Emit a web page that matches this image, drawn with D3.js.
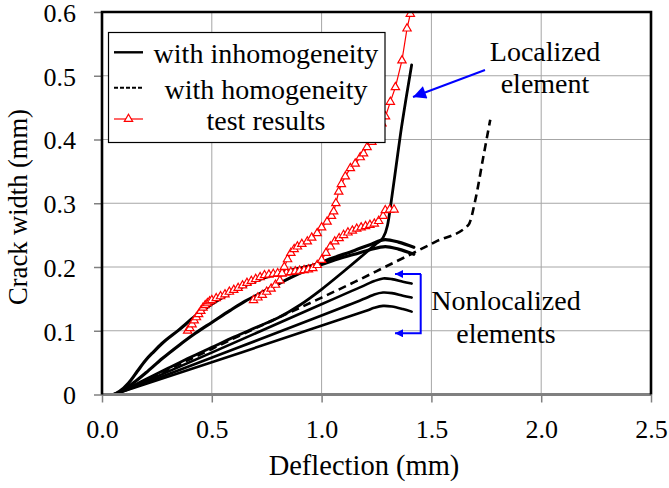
<!DOCTYPE html>
<html>
<head>
<meta charset="utf-8">
<script src="https://cdn.jsdelivr.net/npm/d3@7"></script>
<style>
  html, body { margin: 0; padding: 0; background: #fff; }
  svg { display: block; }
</style>
</head>
<body>
<div id="chart"></div>
<script>
// ---------- DATA ----------
const xTicks = [0, 0.5, 1.0, 1.5, 2.0, 2.5];
const xTickLabels = ["0.0", "0.5", "1.0", "1.5", "2.0", "2.5"];
const yTicks = [0, 0.1, 0.2, 0.3, 0.4, 0.5, 0.6];
const yTickLabels = ["0", "0.1", "0.2", "0.3", "0.4", "0.5", "0.6"];

const xTitle = "Deflection (mm)";
const yTitle = "Crack width (mm)";
const legendLabels = ["with inhomogeneity", "with homogeneity", "test results"];

// with inhomogeneity: upper (nonlocalized) pair
const inhomoUpperA = [[0,0],[0.05,0],[0.08,0.005],[0.121,0.018],[0.16,0.036],[0.197,0.053],[0.235,0.067],[0.273,0.080],[0.349,0.101],[0.425,0.123],[0.501,0.142],[0.577,0.158],[0.653,0.171],[0.729,0.182],[0.80,0.190],[0.873,0.196],[0.964,0.203],[1.05,0.214],[1.15,0.226],[1.22,0.235],[1.29,0.243],[1.35,0.239],[1.42,0.231]];
const inhomoUpperB = [[0,0],[0.05,0],[0.10,0.008],[0.15,0.020],[0.20,0.034],[0.273,0.056],[0.35,0.077],[0.425,0.096],[0.50,0.113],[0.584,0.132],[0.65,0.146],[0.729,0.160],[0.80,0.173],[0.90,0.190],[0.96,0.199],[1.05,0.210],[1.15,0.220],[1.22,0.227],[1.29,0.232],[1.35,0.228],[1.42,0.220]];
// with inhomogeneity: localized element
const inhomoLocalized = [[0,0],[0.05,0],[0.10,0.007],[0.20,0.024],[0.30,0.041],[0.40,0.058],[0.50,0.074],[0.60,0.090],[0.70,0.105],[0.80,0.120],[0.90,0.140],[1.00,0.165],[1.10,0.193],[1.20,0.222],[1.25,0.237],[1.28,0.246],[1.30,0.265],[1.32,0.310],[1.34,0.360],[1.36,0.410],[1.385,0.465],[1.41,0.517]];
// with inhomogeneity: lower nonlocalized elements
const inhomoLower1 = [[0,0],[0.05,0],[0.07,0.002],[1.20,0.172],[1.24,0.178],[1.28,0.182],[1.32,0.181],[1.37,0.177],[1.41,0.174]];
const inhomoLower2 = [[0,0],[0.05,0],[0.07,0.002],[1.20,0.151],[1.24,0.157],[1.28,0.160],[1.32,0.159],[1.37,0.155],[1.41,0.152]];
const inhomoLower3 = [[0,0],[0.05,0],[0.07,0.002],[1.20,0.131],[1.24,0.136],[1.28,0.139],[1.32,0.138],[1.37,0.134],[1.41,0.130]];
// with homogeneity (dashed)
const homogeneity = [[0,0],[0.05,0],[0.10,0.007],[0.20,0.023],[0.40,0.055],[0.60,0.088],[0.80,0.120],[1.00,0.152],[1.153,0.177],[1.30,0.202],[1.418,0.222],[1.518,0.2395],[1.669,0.266],[1.70,0.305],[1.735,0.370],[1.768,0.431]];

// test results (two specimens)
const test1 = [[0.39,0.100],[0.40,0.104],[0.41,0.110],[0.42,0.116],[0.43,0.121],[0.44,0.126],[0.45,0.131],[0.46,0.136],[0.47,0.140],[0.48,0.143],[0.49,0.146],[0.50,0.148],[0.52,0.151],[0.54,0.154],[0.56,0.157],[0.58,0.161],[0.60,0.164],[0.62,0.167],[0.64,0.171],[0.66,0.175],[0.68,0.178],[0.70,0.181],[0.72,0.184],[0.74,0.187],[0.76,0.188],[0.78,0.189],[0.80,0.190],[0.82,0.190],[0.84,0.191],[0.86,0.192],[0.88,0.193],[0.90,0.194],[0.92,0.195],[0.94,0.196],[0.96,0.198],[0.98,0.203],[1.00,0.211],[1.02,0.222],[1.04,0.232],[1.06,0.240],[1.08,0.245],[1.10,0.250],[1.12,0.254],[1.14,0.257],[1.16,0.260],[1.18,0.262],[1.20,0.264],[1.22,0.266],[1.24,0.268],[1.26,0.272],[1.28,0.280],[1.29,0.289],[1.31,0.290],[1.33,0.290]];
const test2 = [[0.69,0.148],[0.71,0.152],[0.73,0.156],[0.75,0.161],[0.77,0.166],[0.79,0.172],[0.81,0.179],[0.82,0.190],[0.83,0.200],[0.845,0.212],[0.86,0.222],[0.875,0.228],[0.89,0.232],[0.91,0.236],[0.935,0.240],[0.955,0.246],[0.98,0.253],[1.00,0.262],[1.025,0.271],[1.045,0.280],[1.055,0.287],[1.065,0.300],[1.078,0.318],[1.09,0.330],[1.108,0.342],[1.131,0.355],[1.153,0.362],[1.176,0.372],[1.191,0.378],[1.207,0.388],[1.229,0.396],[1.245,0.404],[1.26,0.415],[1.275,0.425],[1.291,0.436],[1.313,0.459],[1.336,0.482],[1.366,0.524],[1.389,0.574],[1.404,0.597],[1.41,0.610]];

// annotations
const noteLocalized = ["Localized", "element"];
const noteNonlocalized = ["Nonlocalized", "elements"];

// ---------- LAYOUT ----------
const W = 669, H = 488;
const plot = { left: 102, right: 651, top: 12, bottom: 394.5 };
const font = "Times New Roman, serif";

const svg = d3.select("#chart").append("svg").attr("width", W).attr("height", H)
  .attr("font-family", font);

const x = d3.scaleLinear().domain([0, 2.5]).range([plot.left, plot.right]);
const y = d3.scaleLinear().domain([0, 0.6]).range([plot.bottom, plot.top]);

// gridlines
const grid = svg.append("g");
grid.selectAll("line.v").data(xTicks.slice(1, -1)).join("line")
  .attr("x1", d => x(d)).attr("x2", d => x(d))
  .attr("y1", plot.top).attr("y2", plot.bottom)
  .attr("stroke", "#a6a6a6").attr("stroke-width", 1);
grid.selectAll("line.h").data(yTicks.slice(1, -1)).join("line")
  .attr("x1", plot.left).attr("x2", plot.right)
  .attr("y1", d => y(d)).attr("y2", d => y(d))
  .attr("stroke", "#a6a6a6").attr("stroke-width", 1);

// axes (ticks + labels)
const xAxis = svg.append("g").attr("transform", `translate(0,${plot.bottom})`)
  .call(d3.axisBottom(x).tickValues(xTicks).tickFormat((d, i) => xTickLabels[i]).tickSize(8).tickSizeOuter(0));
xAxis.attr("font-family", font).attr("font-size", 26);
xAxis.select(".domain").remove();
xAxis.selectAll(".tick line").attr("stroke", "#808080").attr("stroke-width", 1.5);
xAxis.selectAll(".tick text").attr("y", 43.5).attr("dy", 0).attr("fill", "#000");

const yAxis = svg.append("g").attr("transform", `translate(${plot.left},0)`)
  .call(d3.axisLeft(y).tickValues(yTicks).tickFormat((d, i) => yTickLabels[i]).tickSize(8).tickPadding(18).tickSizeOuter(0));
yAxis.attr("font-family", font).attr("font-size", 26);
yAxis.select(".domain").remove();
yAxis.selectAll(".tick line").attr("stroke", "#808080").attr("stroke-width", 1.5);
yAxis.selectAll(".tick text").attr("dy", "0.36em").attr("fill", "#000");

// clip
svg.append("clipPath").attr("id", "clip").append("rect")
  .attr("x", plot.left).attr("y", plot.top)
  .attr("width", plot.right - plot.left).attr("height", plot.bottom - plot.top);

const marks = svg.append("g").attr("clip-path", "url(#clip)");
const smooth = d3.line().x(d => x(d[0])).y(d => y(d[1])).curve(d3.curveMonotoneX);
const straightish = d3.line().x(d => x(d[0])).y(d => y(d[1])).curve(d3.curveCatmullRom.alpha(0.5));
const straight = d3.line().x(d => x(d[0])).y(d => y(d[1]));

marks.append("path").datum(homogeneity).attr("d", smooth)
  .attr("fill", "none").attr("stroke", "#000").attr("stroke-width", 2.6)
  .attr("stroke-dasharray", "8,5");
[inhomoLower3, inhomoLower2, inhomoLower1].forEach(s => {
  marks.append("path").datum(s).attr("d", straightish)
    .attr("fill", "none").attr("stroke", "#000").attr("stroke-width", 2.6)
    .attr("stroke-linejoin", "round").attr("stroke-linecap", "round");
});
[{ data: inhomoLocalized, w: 2.8 }, { data: inhomoUpperB, w: 3.2 }, { data: inhomoUpperA, w: 3.2 }].forEach(s => {
  marks.append("path").datum(s.data).attr("d", smooth)
    .attr("fill", "none").attr("stroke", "#000").attr("stroke-width", s.w)
    .attr("stroke-linejoin", "round").attr("stroke-linecap", "round");
});

const tri = d3.symbol().type(d3.symbolTriangle).size(30);
[test1, test2].forEach(series => {
  marks.append("path").datum(series).attr("d", straight)
    .attr("fill", "none").attr("stroke", "#ff0000").attr("stroke-width", 1.2);
  marks.append("g").selectAll("path").data(series).join("path")
    .attr("d", tri)
    .attr("transform", d => `translate(${x(d[0])},${y(d[1])})`)
    .attr("fill", "#fff").attr("stroke", "#ff0000").attr("stroke-width", 1.2);
});

// frame
svg.append("line").attr("x1", plot.left).attr("x2", plot.right)
  .attr("y1", plot.bottom).attr("y2", plot.bottom)
  .attr("stroke", "#808080").attr("stroke-width", 3);
svg.append("path")
  .attr("d", `M${plot.left},${plot.bottom}V${plot.top}H${plot.right}V${plot.bottom}`)
  .attr("fill", "none").attr("stroke", "#000").attr("stroke-width", 2.6);

// axis titles
svg.append("text").attr("x", 364).attr("y", 475).attr("text-anchor", "middle")
  .attr("font-size", 28.5).text(xTitle);
svg.append("text").attr("transform", `translate(27,207) rotate(-90)`)
  .attr("text-anchor", "middle").attr("font-size", 26.5).text(yTitle);

// legend
const lg = svg.append("g");
lg.append("rect").attr("x", 108.5).attr("y", 32.5).attr("width", 276.5).attr("height", 110)
  .attr("fill", "#fff").attr("stroke", "#000").attr("stroke-width", 1.2);
const rowY = [52.3, 87.7, 119];
const textX = 266;
lg.append("line").attr("x1", 114).attr("x2", 143).attr("y1", rowY[0]).attr("y2", rowY[0])
  .attr("stroke", "#000").attr("stroke-width", 2.4);
lg.append("line").attr("x1", 114).attr("x2", 143).attr("y1", rowY[1]).attr("y2", rowY[1])
  .attr("stroke", "#000").attr("stroke-width", 2).attr("stroke-dasharray", "4,2");
lg.append("line").attr("x1", 114).attr("x2", 143).attr("y1", rowY[2]).attr("y2", rowY[2])
  .attr("stroke", "#ff0000").attr("stroke-width", 1.2);
lg.append("path").attr("d", tri).attr("transform", `translate(128.5,${rowY[2]})`)
  .attr("fill", "#fff").attr("stroke", "#ff0000").attr("stroke-width", 1.2);
legendLabels.forEach((t, i) => {
  lg.append("text").attr("x", textX).attr("y", rowY[i] + 11).attr("text-anchor", "middle")
    .attr("font-size", 28).text(t);
});

// annotations
const blue = "#0000ff";
[[noteLocalized[0], 545, 61], [noteLocalized[1], 545, 93],
 [noteNonlocalized[0], 506, 310], [noteNonlocalized[1], 506, 343]].forEach(([t, tx, ty]) => {
  svg.append("text").attr("x", tx).attr("y", ty).attr("text-anchor", "middle")
    .attr("font-size", 28).text(t);
});

const defs = svg.append("defs");
defs.append("marker").attr("id", "arrowBig").attr("viewBox", "0 0 10 10")
  .attr("refX", 10).attr("refY", 5).attr("markerWidth", 7.5).attr("markerHeight", 6.5)
  .attr("markerUnits", "strokeWidth").attr("orient", "auto")
  .append("path").attr("d", "M0,0L10,5L0,10z").attr("fill", blue);
defs.append("marker").attr("id", "arrowSmall").attr("viewBox", "0 0 10 10")
  .attr("refX", 10).attr("refY", 5).attr("markerWidth", 5).attr("markerHeight", 4)
  .attr("markerUnits", "strokeWidth").attr("orient", "auto")
  .append("path").attr("d", "M0,0L10,5L0,10z").attr("fill", blue);

svg.append("line").attr("x1", 485).attr("y1", 70).attr("x2", 413).attr("y2", 97)
  .attr("stroke", blue).attr("stroke-width", 2).attr("marker-end", "url(#arrowBig)");
svg.append("path").attr("d", "M421,274H420.7V333.3H395")
  .attr("fill", "none").attr("stroke", blue).attr("stroke-width", 2)
  .attr("marker-end", "url(#arrowSmall)");
svg.append("path").attr("d", "M420.7,274H395")
  .attr("fill", "none").attr("stroke", blue).attr("stroke-width", 2)
  .attr("marker-end", "url(#arrowSmall)");
</script>
</body>
</html>
